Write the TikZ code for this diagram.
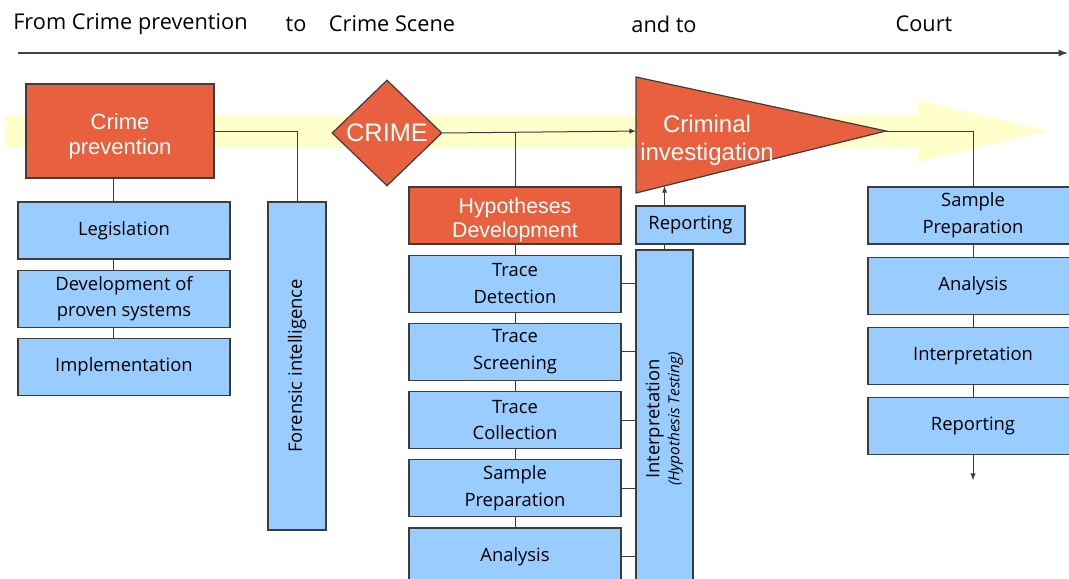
\documentclass[tikz,border=0pt]{standalone}
\usepackage{fontspec}
\setmainfont{Open Sans}
\newfontfamily\arialfont{Liberation Sans}
\usetikzlibrary{positioning, shapes.geometric, calc}
\definecolor{boxblue}{HTML}{99CCFF}
\definecolor{boxorange}{HTML}{E9603F}
\definecolor{boxline}{HTML}{3C3C3C}
\definecolor{bandyellow}{HTML}{FFFFCC}
\tikzset{block/.style={draw=boxline, line width=0.9pt, fill=boxblue, minimum width=159pt, minimum height=42.75pt, inner sep=0pt, align=center, font=\fontsize{13.8}{20}\selectfont},
hotblock/.style={block, fill=boxorange, text=white, font=\arialfont\fontsize{16}{18}\selectfont},
upright/.style={block, rotate=90},
heading/.style={inner sep=0pt, font=\fontsize{16.3}{19}\selectfont},
line/.style={draw=boxline, line width=0.75pt},
arrow/.style={line, -latex}
}

\begin{document}
\begin{tikzpicture}[x=0.75pt, y=-0.75pt]
\clip (0,0) rectangle (1069,578);
% pale band running behind the chain
\fill[bandyellow] (5,116) -- (918,116) -- (918,100) -- (1048,131) -- (918,162) -- (918,147) -- (5,147) -- cycle;
% headings over the time line
\node[heading, anchor=west] (from) at (13,24) {From Crime prevention};
\node[heading] (to) at (296,24) {to};
\node[heading] (scene) at (392,24) {Crime Scene};
\node[heading] (andto) at (664,24) {and to};
\node[heading] (court) at (924,24) {Court};
\coordinate (tstart) at (18,53);
\coordinate (tend) at (1068,53);
\draw[line, draw=black!75, line width=1.4pt, -latex] (tstart) -- (tend);

% prevention column
\node[hotblock, minimum width=141pt, minimum height=70.5pt, font=\arialfont\fontsize{16.5}{19}\selectfont] (prev) at (120,131) {\rule{0pt}{20pt}Crime\\prevention};
\node[block] (legis) at (124,230.5) {Legislation};
\node[block, below=7.5pt of legis] (devel) {Development of\\proven systems};
\node[block, below=7.5pt of devel] (impl) {Implementation};
\node[upright, minimum width=246pt, minimum height=43.5pt] (forint) at (297,366) {Forensic intelligence};
\coordinate (precol) at (113,131);

% crime scene
\node[diamond, draw=boxline, line width=0.9pt, fill=boxorange, minimum width=82.5pt, minimum height=79.5pt, inner sep=0pt, text=white, font=\arialfont\fontsize{19}{21}\selectfont] (crime) at (387,133) {CRIME};
\node[hotblock] (hyp) at (515,215.5) {\rule{0pt}{18pt}Hypotheses\\Development};
\node[block, below=7.5pt of hyp] (tdet) {Trace\\Detection};
\node[block, below=7.5pt of tdet] (tscr) {Trace\\Screening};
\node[block, below=7.5pt of tscr] (tcol) {Trace\\Collection};
\node[block, below=7.5pt of tcol] (samp) {Sample\\Preparation};
\node[block, below=7.5pt of samp] (ana) {Analysis};
\node[upright, minimum width=253.5pt, minimum height=42.75pt] (interp) at (664.5,419) {Interpretation\\[-5pt]{\fontsize{11.5}{12}\selectfont\itshape (Hypothesis Testing)}};
\node[block, minimum width=81.75pt, minimum height=28.5pt] (rep) at (690.5,225) {Reporting};

% investigation triangle
\coordinate (invtop) at (636,77);
\coordinate (invbot) at (636,193);
\coordinate (invtip) at (886,131);
\coordinate (invin) at ($(invtop)!0.466!(invbot)$);
\coordinate (invhit) at ($(invbot)!0.114!(invtip)$);
\filldraw[draw=boxline, line width=0.9pt, fill=boxorange] (invtop) -- (invtip) -- (invbot) -- cycle;
\node[align=center, text=white, font=\arialfont\fontsize{18}{21}\selectfont] (invest) at (707,140) {Criminal\\investigation};

% court column
\node[block, minimum width=157.5pt] (samp2) at (973,215.5) {Sample\\Preparation};
\node[block, minimum width=157.5pt, below=9pt of samp2] (ana2) {Analysis};
\node[block, minimum width=157.5pt, below=9pt of ana2] (int2) {Interpretation};
\node[block, minimum width=157.5pt, below=9pt of int2] (rep2) {Reporting};
\coordinate[below=18.75pt of rep2] (courtout);

% links
\draw[line] (prev.east) -| (forint.east);
\foreach \a/\b in {prev/legis, legis/devel, devel/impl}
  \draw[line] (\a.south -| precol) -- (\b.north -| precol);
\foreach \a/\b in {hyp/tdet, tdet/tscr, tscr/tcol, tcol/samp, samp/ana, samp2/ana2, ana2/int2, int2/rep2}
  \draw[line] (\a.south) -- (\b.north);
\foreach \b in {tdet, tscr, tcol, samp, ana}
  \draw[line] (\b.east) -- (\b.east -| interp.north);
\draw[arrow] (crime.east) -- (invin);
\draw[line] (hyp.north) -- (hyp.north |- crime.east);
\draw[line] (interp.east) -- (interp.east |- rep.south);
\draw[arrow] (rep.north -| invhit) -- (invhit);
\draw[line] (invtip) -| (samp2.north);
\draw[arrow] (rep2.south) -- (courtout);
\end{tikzpicture}
\end{document}
